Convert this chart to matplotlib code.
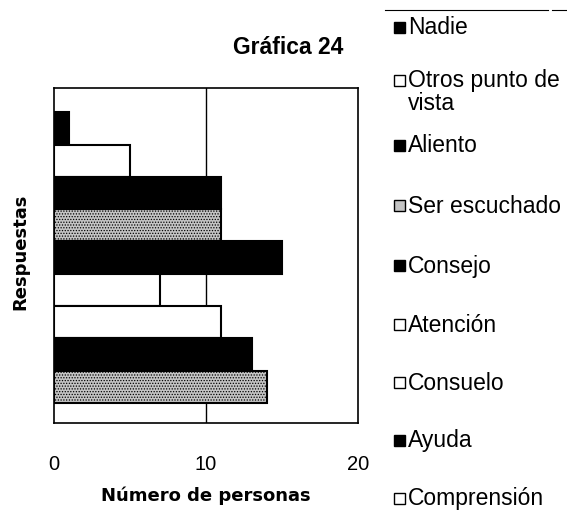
import matplotlib
matplotlib.use("Agg")
import matplotlib.pyplot as plt
from matplotlib.patches import Rectangle

plt.rcParams['font.family'] = ['Liberation Sans', 'DejaVu Sans']
plt.rcParams['hatch.linewidth'] = 0.6

categories = ["Nadie", "Otros punto de\nvista", "Aliento", "Ser escuchado", "Consejo",
              "Atención", "Consuelo", "Ayuda", "Comprensión"]
values = [1, 5, 11, 11, 15, 7, 11, 13, 14]
bar_styles = ["black", "white", "black", "stipple", "black", "white", "white", "black", "stipple"]
legend_styles = ["black", "white", "black", "stipple", "black", "white", "white", "black", "white"]
xticks = [0, 10, 20]

W, H = 567, 527
fig = plt.figure(figsize=(W / 100, H / 100), dpi=100)
ax = fig.add_axes([54 / W, 1 - 423 / H, (358 - 54) / W, (423 - 88) / H])

def style_kwargs(s):
    if s == "black":
        return dict(facecolor="black", edgecolor="black")
    if s == "white":
        return dict(facecolor="white", edgecolor="black")
    return dict(facecolor="#c4c4c4", edgecolor="black", hatch="......")

n = len(values)
for i, (v, s) in enumerate(zip(values, bar_styles)):
    ax.barh(i, v, height=1.0, linewidth=1.5, **style_kwargs(s))

ax.set_ylim(n - 0.5 + 0.62, -0.5 - 0.75)
ax.set_xlim(0, 20)
ax.set_xticks(xticks)
ax.set_xticklabels([str(t) for t in xticks], fontsize=14.5)
ax.set_yticks([])
ax.tick_params(axis='x', length=0, pad=23)
ax.axvline(10, color="black", linewidth=1.0, zorder=0)
for sp in ax.spines.values():
    sp.set_linewidth(1.2)

fig.text(206 / W, 1 - 496 / H, "Número de personas", fontsize=13, fontweight="bold",
         family="DejaVu Sans", ha="center", va="center")
fig.text(20 / W, 1 - 252 / H, "Respuestas", fontsize=13, fontweight="bold",
         family="DejaVu Sans", ha="center", va="center", rotation=90)
fig.text(288 / W, 1 - 47 / H, "Gráfica 24", fontsize=16.5, fontweight="bold",
         ha="center", va="center")

# legend
fig.add_artist(plt.Line2D([385 / W, 548 / W], [1 - 10 / H, 1 - 10 / H],
                          color="black", linewidth=0.8))
fig.add_artist(plt.Line2D([552 / W, 1.0], [1 - 10 / H, 1 - 10 / H],
                          color="black", linewidth=0.8))
leg_y = [27, 80, 145, 205, 265, 324, 382, 440, 498]
for lab, s, y in zip(categories, legend_styles, leg_y):
    sq = 11
    kw = style_kwargs(s)
    kw.pop("hatch", None)
    fig.add_artist(Rectangle((394 / W, 1 - (y + sq / 2) / H), sq / W, sq / H,
                             linewidth=1.0, transform=fig.transFigure, **kw))
    fig.text(408 / W, 1 - (y - 10.5) / H, lab, fontsize=16.5, ha="left",
             va="top", linespacing=0.95)

fig.savefig("out.png", dpi=100, facecolor="white")
